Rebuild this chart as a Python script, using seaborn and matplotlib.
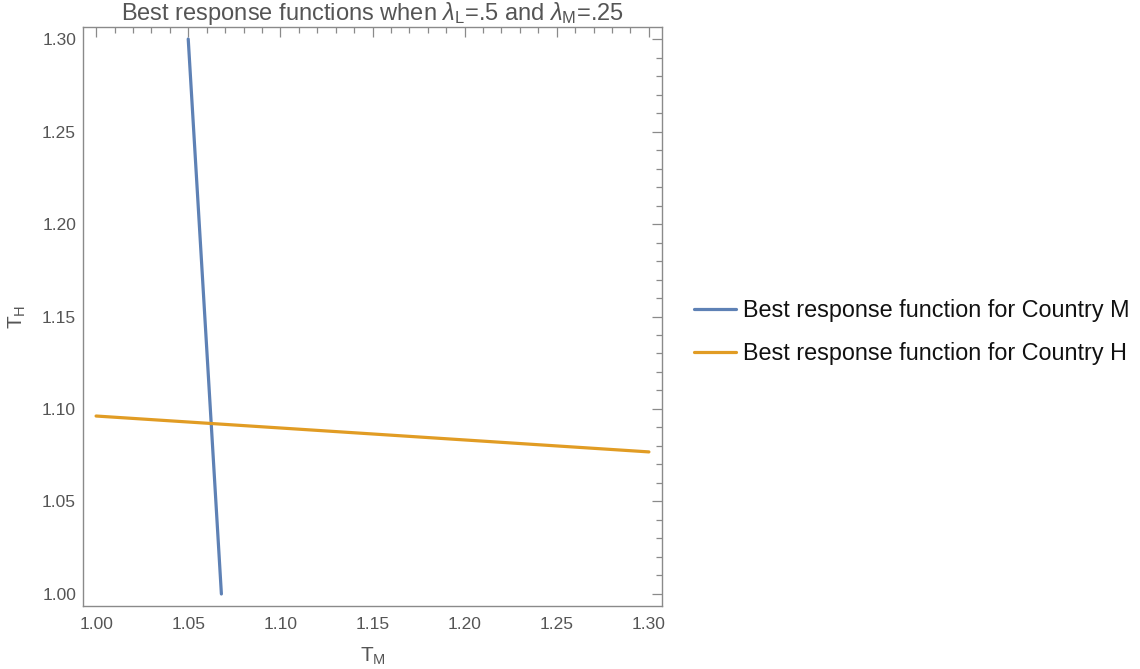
import numpy as np
import pandas as pd
import matplotlib
matplotlib.use("Agg")
import matplotlib.pyplot as plt
import seaborn as sns
from matplotlib.ticker import MultipleLocator

# Data
series_names = ["Best response function for Country M", "Best response function for Country H"]
m_tm = [1.050, 1.068]
m_th = [1.300, 1.000]
h_tm = [1.000, 1.300]
h_th = [1.0962, 1.0768]
x_ticks = [1.00, 1.05, 1.10, 1.15, 1.20, 1.25, 1.30]
y_ticks = [1.00, 1.05, 1.10, 1.15, 1.20, 1.25, 1.30]

df = pd.DataFrame({
    "TM": m_tm + h_tm,
    "TH": m_th + h_th,
    "series": [series_names[0]] * len(m_tm) + [series_names[1]] * len(h_tm),
})

sns.set_theme(style="white")
plt.rcParams["font.family"] = ["Liberation Sans", "DejaVu Sans"]
plt.rcParams["mathtext.fontset"] = "custom"
plt.rcParams["mathtext.rm"] = "Liberation Sans"
plt.rcParams["mathtext.it"] = "Liberation Sans:italic"

fig = plt.figure(figsize=(11.4, 6.69), dpi=100)
ax = fig.add_axes([83 / 1140, 1 - 606 / 669, (662 - 83) / 1140, (606 - 27) / 669])

palette = {series_names[0]: "#5E81B5", series_names[1]: "#E19C24"}
sns.lineplot(data=df, x="TM", y="TH", hue="series", palette=palette, sort=False,
             estimator=None, linewidth=2.3, ax=ax)

ax.set_xlim(0.9929, 1.3071)
ax.set_ylim(0.9935, 1.3065)
ax.set_xticks(x_ticks)
ax.set_yticks(y_ticks)
ax.set_xticklabels([f"{v:.2f}" for v in x_ticks])
ax.set_yticklabels([f"{v:.2f}" for v in y_ticks])
ax.xaxis.set_minor_locator(MultipleLocator(0.01))
ax.yaxis.set_minor_locator(MultipleLocator(0.01))

gray = "#8a8a8a"
for s in ax.spines.values():
    s.set_color(gray)
    s.set_linewidth(1.0)
ax.tick_params(which="both", direction="in", top=True, right=True, color=gray,
               labelcolor="#555555", labelsize=12.5, width=0.9)
ax.tick_params(which="major", length=7, pad=5)
ax.tick_params(axis="x", which="major", pad=8)
ax.tick_params(which="minor", length=4)

ax.set_xlabel(r"T$_\mathrm{M}$", fontsize=15, color="#555555", labelpad=10)
ax.set_ylabel(r"T$_\mathrm{H}$", fontsize=15, color="#555555", labelpad=10)
ax.set_title(r"Best response functions when $\it{\lambda}_\mathrm{L}$=.5 and $\it{\lambda}_\mathrm{M}$=.25",
             fontsize=17, color="#555555", pad=5)

leg = ax.legend(loc="center left", bbox_to_anchor=(673 / 1140, 1 - 332 / 669), bbox_transform=fig.transFigure,
                frameon=False, fontsize=16.8, handlelength=1.8, handletextpad=0.3, labelspacing=0.85)
for t in leg.get_texts():
    t.set_color("#111111")
for line in leg.get_lines():
    line.set_linewidth(2.3)

fig.savefig("out.png", dpi=100)
